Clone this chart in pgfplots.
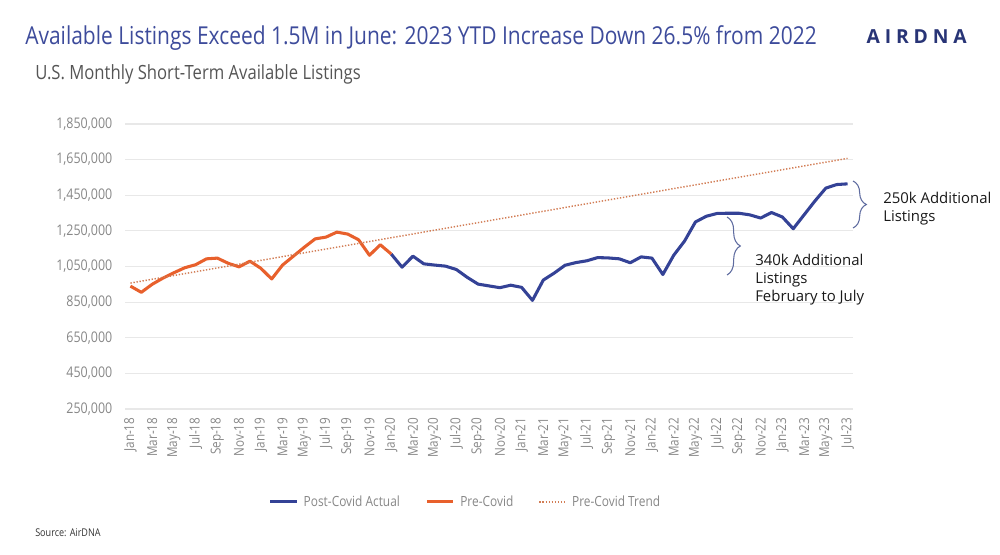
\documentclass[border=0pt]{standalone}
\usepackage{pgfplots}
\pgfplotsset{compat=1.18}
\usepackage{pgfplotstable}
\usepackage{fontspec}
\setmainfont{Open Sans}[FakeStretch=0.85]
\newfontfamily\annfont{Open Sans}
\newfontfamily\logofont{Open Sans}[LetterSpace=25]
\usetikzlibrary{decorations.pathreplacing}

\definecolor{titleblue}{RGB}{61,75,155}
\definecolor{logoblue}{RGB}{40,52,118}
\definecolor{postblue}{RGB}{52,66,150}
\definecolor{preorange}{RGB}{232,96,44}
\definecolor{trendc}{RGB}{210,125,85}
\definecolor{gridc}{RGB}{232,232,232}
\definecolor{ticktext}{RGB}{135,135,135}
\definecolor{subgray}{RGB}{85,85,85}
\definecolor{bracec}{RGB}{95,108,160}

\pgfplotstableread{
m v
0 940000
1 905000
2 950000
3 985000
4 1015000
5 1043000
6 1060000
7 1093000
8 1097000
9 1068000
10 1048000
11 1080000
12 1040000
13 980000
14 1058000
15 1108000
16 1158000
17 1205000
18 1215000
19 1243000
20 1232000
21 1200000
22 1113000
23 1172000
24 1120000
}\predata

\pgfplotstableread{
m v
24 1120000
25 1046000
26 1108000
27 1065000
28 1058000
29 1052000
30 1033000
31 989000
32 951000
33 941000
34 931000
35 945000
36 933000
37 860000
38 974000
39 1013000
40 1057000
41 1072000
42 1082000
43 1100000
44 1098000
45 1093000
46 1071000
47 1104000
48 1097000
49 1005000
50 1113000
51 1193000
52 1300000
53 1332000
54 1348000
55 1349000
56 1349000
57 1340000
58 1322000
59 1353000
60 1328000
61 1262000
62 1340000
63 1418000
64 1490000
65 1510000
66 1514000
}\postdata

\begin{document}
\begin{tikzpicture}
\path[use as bounding box] (0,0) rectangle (750pt,-416.25pt);
\begin{axis}[
  at={(93.75pt,-306.75pt)}, anchor=south west,
  scale only axis, width=546pt, height=213.75pt,
  xmin=-0.5, xmax=66.5, ymin=250000, ymax=1850000,
  axis line style={draw=none}, tick style={draw=none},
  major tick length=0pt,
  ytick={250000,450000,...,1850000},
  ymajorgrids, grid style={draw=gridc, line width=0.8pt},
  scaled y ticks=false,
  /pgf/number format/assume math mode=true,
  yticklabel style={/pgf/number format/fixed, /pgf/number format/1000 sep={,}, font=\fontsize{11}{13}\selectfont, text=ticktext},
  yticklabel shift=6pt,
  xtick={0,2,...,66},
  xticklabels={Jan-18,Mar-18,May-18,Jul-18,Sep-18,Nov-18,Jan-19,Mar-19,May-19,Jul-19,Sep-19,Nov-19,Jan-20,Mar-20,May-20,Jul-20,Sep-20,Nov-20,Jan-21,Mar-21,May-21,Jul-21,Sep-21,Nov-21,Jan-22,Mar-22,May-22,Jul-22,Sep-22,Nov-22,Jan-23,Mar-23,May-23,Jul-23},
  xticklabel style={rotate=90, anchor=east, font=\fontsize{10.3}{12}\selectfont, text=ticktext},
  xticklabel shift=3pt,
  clip=false,
  legend style={at={(0.468,-0.326)}, anchor=center, draw=none, fill=none,
    legend columns=3, font=\fontsize{10.5}{12}\selectfont, text=ticktext,
    /tikz/every even column/.append style={column sep=17pt},
    /tikz/every odd column/.append style={column sep=2pt}},
  legend image code/.code={\draw[#1] (0pt,0pt) -- (20pt,0pt);},
]
\addplot[postblue, line width=2.3pt, line join=round] table[x=m, y=v] {\postdata};
\addlegendentry{Post-Covid Actual}
\addplot[preorange, line width=2.3pt, line join=round] table[x=m, y=v] {\predata};
\addlegendentry{Pre-Covid}
\addplot[trendc, line width=1.1pt, dash pattern=on 1pt off 1.3pt] coordinates {(0,957000) (66,1657000)};
\addlegendentry{Pre-Covid Trend}
\end{axis}
\begin{scope}[x=0.75pt,y=-0.75pt]
\node[anchor=west, inner sep=0, text=titleblue, font=\fontsize{18.5}{21}\selectfont] at (25,38) {Available Listings Exceed 1.5M in June: 2023 YTD Increase Down 26.5\% from 2022};
\node[anchor=west, inner sep=0, text=subgray, font=\fontsize{14.7}{17}\selectfont] at (35,74) {U.S. Monthly Short-Term Available Listings};
\node[anchor=east, inner sep=0, text=logoblue, font=\logofont\bfseries\fontsize{14.5}{16}\selectfont] at (967,37) {AIRDNA};
\node[anchor=west, inner sep=0, text=black!80, font=\fontsize{8}{9}\selectfont] at (35,533) {Source: AirDNA};
\node[anchor=west, inner sep=0, align=left, text=black!90, font=\annfont\fontsize{11.2}{13.5}\selectfont] at (883,209) {250k Additional\\Listings};
\node[anchor=west, inner sep=0, align=left, text=black!90, font=\annfont\fontsize{11.2}{13.5}\selectfont] at (755,280) {340k Additional\\Listings\\February to July};
\draw[bracec, line width=0.8pt, decorate, decoration={brace, amplitude=10pt}] (853,181) -- (853,228);
\draw[bracec, line width=0.8pt, decorate, decoration={brace, amplitude=10pt}] (727,217) -- (727,275);
\end{scope}
\end{tikzpicture}
\end{document}
